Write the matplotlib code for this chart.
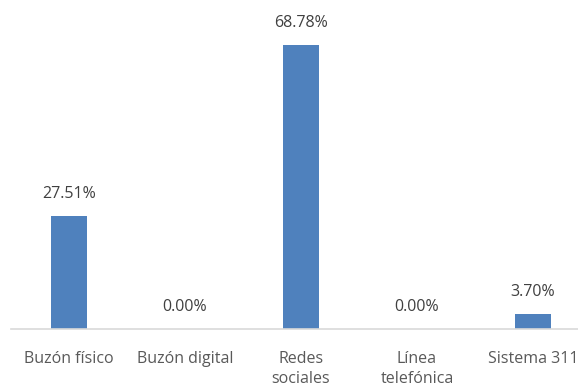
import matplotlib.pyplot as plt

categories = ['Buzón físico', 'Buzón digital', 'Redes\nsociales', 'Línea\ntelefónica', 'Sistema 311']
values = [27.51, 0.00, 68.78, 0.00, 3.70]

plt.rcParams['font.family'] = ['Open Sans', 'DejaVu Sans']

W, H = 578, 388
fig = plt.figure(figsize=(W / 100, H / 100), dpi=100)
# axes runs a bit past the right edge of the figure
ax = fig.add_axes([11 / W, 59 / H, 580 / W, 288.6 / H])

x = range(len(categories))
ax.bar(x, values, width=0.31, color='#4f81bd')

for xi, v in zip(x, values):
    ax.annotate(f'{v:.2f}%', (xi, v), xytext=(0, 15.8), textcoords='offset points',
                ha='center', va='center', fontsize=11.5, color='#404040')

ax.set_xlim(-0.5, 4.5)
ax.set_ylim(0, 70)
ax.set_xticks(list(x))
ax.set_xticklabels(categories, fontsize=11.5, color='#595959', linespacing=1.4, va='top')
ax.tick_params(axis='x', length=0, pad=15.5)
ax.set_yticks([])
for side in ['top', 'right', 'left']:
    ax.spines[side].set_visible(False)
ax.spines['bottom'].set_color('#d9d9d9')
ax.spines['bottom'].set_linewidth(1.2)

fig.savefig('out.png', dpi=100)
